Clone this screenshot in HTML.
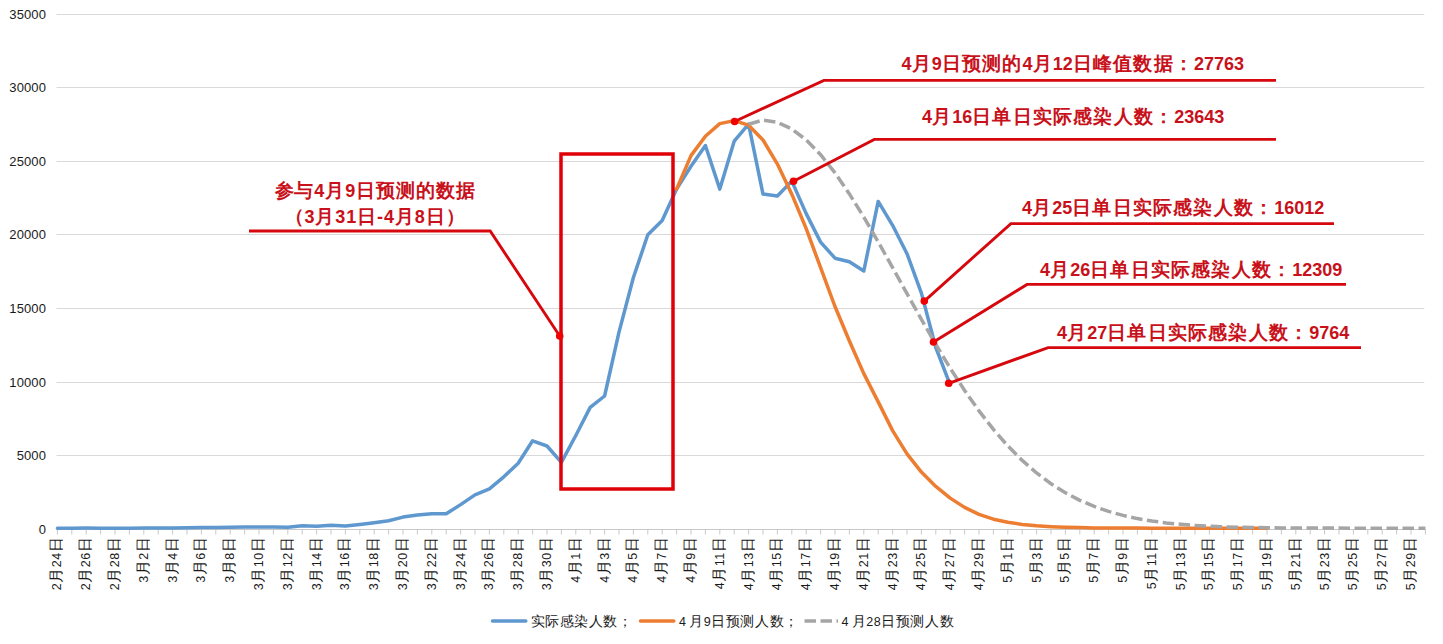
<!DOCTYPE html>
<html><head><meta charset="utf-8"><style>
html,body{margin:0;padding:0;background:#fff;}
svg{display:block;font-family:"Liberation Sans",sans-serif;}
.ax text{font-size:13px;fill:#1a1a1a;letter-spacing:0.1px;}
.xl text{font-size:12.5px;fill:#1a1a1a;letter-spacing:0.45px;}
.an{font-size:18px;font-weight:bold;fill:#c8111a;letter-spacing:0px;}
.an2{font-size:18px;font-weight:bold;fill:#c8111a;letter-spacing:0.9px;}
.lg{font-size:12.5px;fill:#1a1a1a;letter-spacing:0.6px;}
</style></head><body>
<svg width="1443" height="644" viewBox="0 0 1443 644">
<g stroke="#d9d9d9" stroke-width="1"><line x1="56.5" y1="455.5" x2="1424.3" y2="455.5"/><line x1="56.5" y1="382.5" x2="1424.3" y2="382.5"/><line x1="56.5" y1="308.5" x2="1424.3" y2="308.5"/><line x1="56.5" y1="234.5" x2="1424.3" y2="234.5"/><line x1="56.5" y1="161.5" x2="1424.3" y2="161.5"/><line x1="56.5" y1="87.5" x2="1424.3" y2="87.5"/><line x1="56.5" y1="14.5" x2="1424.3" y2="14.5"/></g>
<g stroke="#c8c8c8" stroke-width="1"><line x1="57.4" y1="529.5" x2="57.4" y2="534.5"/><line x1="71.8" y1="529.5" x2="71.8" y2="534.5"/><line x1="86.2" y1="529.5" x2="86.2" y2="534.5"/><line x1="100.6" y1="529.5" x2="100.6" y2="534.5"/><line x1="115.0" y1="529.5" x2="115.0" y2="534.5"/><line x1="129.4" y1="529.5" x2="129.4" y2="534.5"/><line x1="143.8" y1="529.5" x2="143.8" y2="534.5"/><line x1="158.2" y1="529.5" x2="158.2" y2="534.5"/><line x1="172.6" y1="529.5" x2="172.6" y2="534.5"/><line x1="187.0" y1="529.5" x2="187.0" y2="534.5"/><line x1="201.4" y1="529.5" x2="201.4" y2="534.5"/><line x1="215.8" y1="529.5" x2="215.8" y2="534.5"/><line x1="230.2" y1="529.5" x2="230.2" y2="534.5"/><line x1="244.6" y1="529.5" x2="244.6" y2="534.5"/><line x1="259.0" y1="529.5" x2="259.0" y2="534.5"/><line x1="273.4" y1="529.5" x2="273.4" y2="534.5"/><line x1="287.8" y1="529.5" x2="287.8" y2="534.5"/><line x1="302.2" y1="529.5" x2="302.2" y2="534.5"/><line x1="316.6" y1="529.5" x2="316.6" y2="534.5"/><line x1="331.0" y1="529.5" x2="331.0" y2="534.5"/><line x1="345.4" y1="529.5" x2="345.4" y2="534.5"/><line x1="359.8" y1="529.5" x2="359.8" y2="534.5"/><line x1="374.2" y1="529.5" x2="374.2" y2="534.5"/><line x1="388.6" y1="529.5" x2="388.6" y2="534.5"/><line x1="403.0" y1="529.5" x2="403.0" y2="534.5"/><line x1="417.4" y1="529.5" x2="417.4" y2="534.5"/><line x1="431.8" y1="529.5" x2="431.8" y2="534.5"/><line x1="446.2" y1="529.5" x2="446.2" y2="534.5"/><line x1="460.6" y1="529.5" x2="460.6" y2="534.5"/><line x1="475.0" y1="529.5" x2="475.0" y2="534.5"/><line x1="489.4" y1="529.5" x2="489.4" y2="534.5"/><line x1="503.8" y1="529.5" x2="503.8" y2="534.5"/><line x1="518.2" y1="529.5" x2="518.2" y2="534.5"/><line x1="532.6" y1="529.5" x2="532.6" y2="534.5"/><line x1="547.0" y1="529.5" x2="547.0" y2="534.5"/><line x1="561.4" y1="529.5" x2="561.4" y2="534.5"/><line x1="575.8" y1="529.5" x2="575.8" y2="534.5"/><line x1="590.2" y1="529.5" x2="590.2" y2="534.5"/><line x1="604.6" y1="529.5" x2="604.6" y2="534.5"/><line x1="619.0" y1="529.5" x2="619.0" y2="534.5"/><line x1="633.4" y1="529.5" x2="633.4" y2="534.5"/><line x1="647.8" y1="529.5" x2="647.8" y2="534.5"/><line x1="662.2" y1="529.5" x2="662.2" y2="534.5"/><line x1="676.6" y1="529.5" x2="676.6" y2="534.5"/><line x1="691.0" y1="529.5" x2="691.0" y2="534.5"/><line x1="705.4" y1="529.5" x2="705.4" y2="534.5"/><line x1="719.8" y1="529.5" x2="719.8" y2="534.5"/><line x1="734.2" y1="529.5" x2="734.2" y2="534.5"/><line x1="748.6" y1="529.5" x2="748.6" y2="534.5"/><line x1="763.0" y1="529.5" x2="763.0" y2="534.5"/><line x1="777.4" y1="529.5" x2="777.4" y2="534.5"/><line x1="791.8" y1="529.5" x2="791.8" y2="534.5"/><line x1="806.2" y1="529.5" x2="806.2" y2="534.5"/><line x1="820.6" y1="529.5" x2="820.6" y2="534.5"/><line x1="835.0" y1="529.5" x2="835.0" y2="534.5"/><line x1="849.4" y1="529.5" x2="849.4" y2="534.5"/><line x1="863.8" y1="529.5" x2="863.8" y2="534.5"/><line x1="878.2" y1="529.5" x2="878.2" y2="534.5"/><line x1="892.6" y1="529.5" x2="892.6" y2="534.5"/><line x1="907.0" y1="529.5" x2="907.0" y2="534.5"/><line x1="921.4" y1="529.5" x2="921.4" y2="534.5"/><line x1="935.8" y1="529.5" x2="935.8" y2="534.5"/><line x1="950.2" y1="529.5" x2="950.2" y2="534.5"/><line x1="964.6" y1="529.5" x2="964.6" y2="534.5"/><line x1="979.0" y1="529.5" x2="979.0" y2="534.5"/><line x1="993.4" y1="529.5" x2="993.4" y2="534.5"/><line x1="1007.8" y1="529.5" x2="1007.8" y2="534.5"/><line x1="1022.2" y1="529.5" x2="1022.2" y2="534.5"/><line x1="1036.6" y1="529.5" x2="1036.6" y2="534.5"/><line x1="1051.0" y1="529.5" x2="1051.0" y2="534.5"/><line x1="1065.4" y1="529.5" x2="1065.4" y2="534.5"/><line x1="1079.8" y1="529.5" x2="1079.8" y2="534.5"/><line x1="1094.2" y1="529.5" x2="1094.2" y2="534.5"/><line x1="1108.6" y1="529.5" x2="1108.6" y2="534.5"/><line x1="1123.0" y1="529.5" x2="1123.0" y2="534.5"/><line x1="1137.4" y1="529.5" x2="1137.4" y2="534.5"/><line x1="1151.8" y1="529.5" x2="1151.8" y2="534.5"/><line x1="1166.2" y1="529.5" x2="1166.2" y2="534.5"/><line x1="1180.6" y1="529.5" x2="1180.6" y2="534.5"/><line x1="1195.0" y1="529.5" x2="1195.0" y2="534.5"/><line x1="1209.4" y1="529.5" x2="1209.4" y2="534.5"/><line x1="1223.8" y1="529.5" x2="1223.8" y2="534.5"/><line x1="1238.2" y1="529.5" x2="1238.2" y2="534.5"/><line x1="1252.6" y1="529.5" x2="1252.6" y2="534.5"/><line x1="1267.0" y1="529.5" x2="1267.0" y2="534.5"/><line x1="1281.4" y1="529.5" x2="1281.4" y2="534.5"/><line x1="1295.8" y1="529.5" x2="1295.8" y2="534.5"/><line x1="1310.2" y1="529.5" x2="1310.2" y2="534.5"/><line x1="1324.6" y1="529.5" x2="1324.6" y2="534.5"/><line x1="1339.0" y1="529.5" x2="1339.0" y2="534.5"/><line x1="1353.4" y1="529.5" x2="1353.4" y2="534.5"/><line x1="1367.8" y1="529.5" x2="1367.8" y2="534.5"/><line x1="1382.2" y1="529.5" x2="1382.2" y2="534.5"/><line x1="1396.6" y1="529.5" x2="1396.6" y2="534.5"/><line x1="1411.0" y1="529.5" x2="1411.0" y2="534.5"/><line x1="1425.4" y1="529.5" x2="1425.4" y2="534.5"/><line x1="56.5" y1="529.5" x2="1425.5" y2="529.5"/></g>
<g class="ax"><text x="46.0" y="534" text-anchor="end">0</text><text x="46.0" y="460" text-anchor="end">5000</text><text x="46.0" y="387" text-anchor="end">10000</text><text x="46.0" y="313" text-anchor="end">15000</text><text x="46.0" y="239" text-anchor="end">20000</text><text x="46.0" y="166" text-anchor="end">25000</text><text x="46.0" y="92" text-anchor="end">30000</text><text x="46.0" y="19" text-anchor="end">35000</text></g>
<g class="xl"><text transform="translate(61.4,537) rotate(-90)" text-anchor="end">2<tspan style="font-size:15px">月</tspan>24<tspan style="font-size:15px">日</tspan></text><text transform="translate(90.2,537) rotate(-90)" text-anchor="end">2<tspan style="font-size:15px">月</tspan>26<tspan style="font-size:15px">日</tspan></text><text transform="translate(119.0,537) rotate(-90)" text-anchor="end">2<tspan style="font-size:15px">月</tspan>28<tspan style="font-size:15px">日</tspan></text><text transform="translate(147.8,537) rotate(-90)" text-anchor="end">3<tspan style="font-size:15px">月</tspan>2<tspan style="font-size:15px">日</tspan></text><text transform="translate(176.6,537) rotate(-90)" text-anchor="end">3<tspan style="font-size:15px">月</tspan>4<tspan style="font-size:15px">日</tspan></text><text transform="translate(205.4,537) rotate(-90)" text-anchor="end">3<tspan style="font-size:15px">月</tspan>6<tspan style="font-size:15px">日</tspan></text><text transform="translate(234.2,537) rotate(-90)" text-anchor="end">3<tspan style="font-size:15px">月</tspan>8<tspan style="font-size:15px">日</tspan></text><text transform="translate(263.0,537) rotate(-90)" text-anchor="end">3<tspan style="font-size:15px">月</tspan>10<tspan style="font-size:15px">日</tspan></text><text transform="translate(291.8,537) rotate(-90)" text-anchor="end">3<tspan style="font-size:15px">月</tspan>12<tspan style="font-size:15px">日</tspan></text><text transform="translate(320.6,537) rotate(-90)" text-anchor="end">3<tspan style="font-size:15px">月</tspan>14<tspan style="font-size:15px">日</tspan></text><text transform="translate(349.4,537) rotate(-90)" text-anchor="end">3<tspan style="font-size:15px">月</tspan>16<tspan style="font-size:15px">日</tspan></text><text transform="translate(378.2,537) rotate(-90)" text-anchor="end">3<tspan style="font-size:15px">月</tspan>18<tspan style="font-size:15px">日</tspan></text><text transform="translate(407.0,537) rotate(-90)" text-anchor="end">3<tspan style="font-size:15px">月</tspan>20<tspan style="font-size:15px">日</tspan></text><text transform="translate(435.8,537) rotate(-90)" text-anchor="end">3<tspan style="font-size:15px">月</tspan>22<tspan style="font-size:15px">日</tspan></text><text transform="translate(464.6,537) rotate(-90)" text-anchor="end">3<tspan style="font-size:15px">月</tspan>24<tspan style="font-size:15px">日</tspan></text><text transform="translate(493.4,537) rotate(-90)" text-anchor="end">3<tspan style="font-size:15px">月</tspan>26<tspan style="font-size:15px">日</tspan></text><text transform="translate(522.2,537) rotate(-90)" text-anchor="end">3<tspan style="font-size:15px">月</tspan>28<tspan style="font-size:15px">日</tspan></text><text transform="translate(551.0,537) rotate(-90)" text-anchor="end">3<tspan style="font-size:15px">月</tspan>30<tspan style="font-size:15px">日</tspan></text><text transform="translate(579.8,537) rotate(-90)" text-anchor="end">4<tspan style="font-size:15px">月</tspan>1<tspan style="font-size:15px">日</tspan></text><text transform="translate(608.6,537) rotate(-90)" text-anchor="end">4<tspan style="font-size:15px">月</tspan>3<tspan style="font-size:15px">日</tspan></text><text transform="translate(637.4,537) rotate(-90)" text-anchor="end">4<tspan style="font-size:15px">月</tspan>5<tspan style="font-size:15px">日</tspan></text><text transform="translate(666.2,537) rotate(-90)" text-anchor="end">4<tspan style="font-size:15px">月</tspan>7<tspan style="font-size:15px">日</tspan></text><text transform="translate(695.0,537) rotate(-90)" text-anchor="end">4<tspan style="font-size:15px">月</tspan>9<tspan style="font-size:15px">日</tspan></text><text transform="translate(723.8,537) rotate(-90)" text-anchor="end">4<tspan style="font-size:15px">月</tspan>11<tspan style="font-size:15px">日</tspan></text><text transform="translate(752.6,537) rotate(-90)" text-anchor="end">4<tspan style="font-size:15px">月</tspan>13<tspan style="font-size:15px">日</tspan></text><text transform="translate(781.4,537) rotate(-90)" text-anchor="end">4<tspan style="font-size:15px">月</tspan>15<tspan style="font-size:15px">日</tspan></text><text transform="translate(810.2,537) rotate(-90)" text-anchor="end">4<tspan style="font-size:15px">月</tspan>17<tspan style="font-size:15px">日</tspan></text><text transform="translate(839.0,537) rotate(-90)" text-anchor="end">4<tspan style="font-size:15px">月</tspan>19<tspan style="font-size:15px">日</tspan></text><text transform="translate(867.8,537) rotate(-90)" text-anchor="end">4<tspan style="font-size:15px">月</tspan>21<tspan style="font-size:15px">日</tspan></text><text transform="translate(896.6,537) rotate(-90)" text-anchor="end">4<tspan style="font-size:15px">月</tspan>23<tspan style="font-size:15px">日</tspan></text><text transform="translate(925.4,537) rotate(-90)" text-anchor="end">4<tspan style="font-size:15px">月</tspan>25<tspan style="font-size:15px">日</tspan></text><text transform="translate(954.2,537) rotate(-90)" text-anchor="end">4<tspan style="font-size:15px">月</tspan>27<tspan style="font-size:15px">日</tspan></text><text transform="translate(983.0,537) rotate(-90)" text-anchor="end">4<tspan style="font-size:15px">月</tspan>29<tspan style="font-size:15px">日</tspan></text><text transform="translate(1011.8,537) rotate(-90)" text-anchor="end">5<tspan style="font-size:15px">月</tspan>1<tspan style="font-size:15px">日</tspan></text><text transform="translate(1040.6,537) rotate(-90)" text-anchor="end">5<tspan style="font-size:15px">月</tspan>3<tspan style="font-size:15px">日</tspan></text><text transform="translate(1069.4,537) rotate(-90)" text-anchor="end">5<tspan style="font-size:15px">月</tspan>5<tspan style="font-size:15px">日</tspan></text><text transform="translate(1098.2,537) rotate(-90)" text-anchor="end">5<tspan style="font-size:15px">月</tspan>7<tspan style="font-size:15px">日</tspan></text><text transform="translate(1127.0,537) rotate(-90)" text-anchor="end">5<tspan style="font-size:15px">月</tspan>9<tspan style="font-size:15px">日</tspan></text><text transform="translate(1155.8,537) rotate(-90)" text-anchor="end">5<tspan style="font-size:15px">月</tspan>11<tspan style="font-size:15px">日</tspan></text><text transform="translate(1184.6,537) rotate(-90)" text-anchor="end">5<tspan style="font-size:15px">月</tspan>13<tspan style="font-size:15px">日</tspan></text><text transform="translate(1213.4,537) rotate(-90)" text-anchor="end">5<tspan style="font-size:15px">月</tspan>15<tspan style="font-size:15px">日</tspan></text><text transform="translate(1242.2,537) rotate(-90)" text-anchor="end">5<tspan style="font-size:15px">月</tspan>17<tspan style="font-size:15px">日</tspan></text><text transform="translate(1271.0,537) rotate(-90)" text-anchor="end">5<tspan style="font-size:15px">月</tspan>19<tspan style="font-size:15px">日</tspan></text><text transform="translate(1299.8,537) rotate(-90)" text-anchor="end">5<tspan style="font-size:15px">月</tspan>21<tspan style="font-size:15px">日</tspan></text><text transform="translate(1328.6,537) rotate(-90)" text-anchor="end">5<tspan style="font-size:15px">月</tspan>23<tspan style="font-size:15px">日</tspan></text><text transform="translate(1357.4,537) rotate(-90)" text-anchor="end">5<tspan style="font-size:15px">月</tspan>25<tspan style="font-size:15px">日</tspan></text><text transform="translate(1386.2,537) rotate(-90)" text-anchor="end">5<tspan style="font-size:15px">月</tspan>27<tspan style="font-size:15px">日</tspan></text><text transform="translate(1415.0,537) rotate(-90)" text-anchor="end">5<tspan style="font-size:15px">月</tspan>29<tspan style="font-size:15px">日</tspan></text></g>
<path d="M57.4,528.2 L71.8,528.2 L86.2,528.1 L100.6,528.2 L115.0,528.2 L129.4,528.2 L143.8,528.1 L158.2,528.0 L172.6,527.9 L187.0,527.8 L201.4,527.5 L215.8,527.4 L230.2,527.2 L244.6,527.0 L259.0,527.1 L273.4,527.0 L287.8,527.2 L302.2,525.7 L316.6,526.2 L331.0,525.2 L345.4,525.9 L359.8,524.4 L374.2,522.7 L388.6,520.7 L403.0,517.1 L417.4,515.0 L431.8,513.8 L446.2,513.8 L460.6,504.6 L475.0,494.9 L489.4,488.9 L503.8,476.8 L518.2,463.3 L532.6,440.8 L547.0,446.0 L561.4,462.4 L575.8,435.5 L590.2,407.4 L604.6,396.0 L619.0,332.1 L633.4,277.5 L647.8,234.8 L662.2,220.6 L676.6,189.1 L691.0,166.3 L705.4,145.5 L719.8,189.1 L734.2,141.2 L748.6,124.2 L763.0,194.1 L777.4,196.0 L791.8,181.1 L806.2,213.6 L820.6,242.1 L835.0,258.2 L849.4,261.7 L863.8,271.0 L878.2,201.4 L892.6,225.3 L907.0,253.7 L921.4,293.1 L935.8,347.5 L950.2,384.9" fill="none" stroke="#5e98cf" stroke-width="3.5" stroke-linecap="round" stroke-linejoin="round"/>
<path d="M676.6,189.1 L691.0,155.6 L705.4,136.2 L719.8,123.6 L734.2,120.6 L748.6,125.2 L763.0,140.0 L777.4,164.1 L791.8,194.2 L806.2,228.7 L820.6,267.6 L835.0,306.5 L849.4,341.0 L863.8,373.6 L878.2,401.9 L892.6,430.6 L907.0,453.9 L921.4,472.1 L935.8,486.4 L950.2,498.1 L964.6,507.4 L979.0,514.4 L993.4,519.2 L1007.8,522.3 L1022.2,524.4 L1036.6,525.8 L1051.0,526.7 L1065.4,527.3 L1079.8,527.6 L1094.2,527.9 L1108.6,528.0 L1123.0,528.1 L1137.4,528.1 L1151.8,528.2 L1166.2,528.2 L1180.6,528.2 L1195.0,528.2 L1209.4,528.2 L1223.8,528.2 L1238.2,528.2 L1252.6,528.2 L1267.0,528.2" fill="none" stroke="#ed7d31" stroke-width="3.5" stroke-linecap="round" stroke-linejoin="round"/>
<path d="M748.6,124.2 L763.0,120.1 L777.4,122.3 L791.8,129.0 L806.2,139.9 L820.6,154.7 L835.0,172.9 L849.4,193.9 L863.8,217.1 L878.2,241.9 L892.6,267.6 L907.0,293.7 L921.4,319.4 L935.8,344.4 L950.2,368.2 L964.6,390.4 L979.0,410.9 L993.4,429.4 L1007.8,445.9 L1022.2,460.4 L1036.6,473.0 L1051.0,483.7 L1065.4,492.7 L1079.8,500.3 L1094.2,506.4 L1108.6,511.4 L1123.0,515.4 L1137.4,518.6 L1151.8,521.0 L1166.2,522.9 L1180.6,524.3 L1195.0,525.4 L1209.4,526.2 L1223.8,526.8 L1238.2,527.2 L1252.6,527.5 L1267.0,527.7 L1281.4,527.9 L1295.8,528.0 L1310.2,528.1 L1324.6,528.1 L1339.0,528.1 L1353.4,528.2 L1367.8,528.2 L1382.2,528.2 L1396.6,528.2 L1411.0,528.2 L1425.4,528.2" fill="none" stroke="#a5a5a5" stroke-width="3.5" stroke-dasharray="11.5,4.5"/>
<rect x="561" y="154" width="112" height="335" fill="none" stroke="#e00008" stroke-width="3.5"/>
<g stroke="#d6080e" stroke-width="2.9" fill="none">
<polyline points="249,231 490.2,231 559.7,336"/>
<polyline points="734.6,121.5 823.9,80.4 1276,80.4"/>
<polyline points="793.5,181.3 874.3,139.4 1276,139.4"/>
<polyline points="924.3,301.1 1010.9,223.6 1334,223.6"/>
<polyline points="933.5,342 1027,284.4 1346,284.4"/>
<polyline points="948.7,383.3 1048.1,347.6 1361,347.6"/>
</g>
<g fill="#f00000">
<circle cx="559.7" cy="336" r="3.8"/><circle cx="734.6" cy="121.5" r="3.8"/><circle cx="793.5" cy="181.3" r="3.8"/>
<circle cx="924.3" cy="301.1" r="3.8"/><circle cx="933.5" cy="342" r="3.8"/><circle cx="948.7" cy="383.3" r="3.8"/>
</g>
<g class="an2">
<text x="375" y="197" text-anchor="middle"><tspan style="font-size:19px">参与</tspan>4<tspan style="font-size:19px">月</tspan>9<tspan style="font-size:19px">日预测的数据</tspan></text>
<text x="375" y="223" text-anchor="middle"><tspan style="font-size:19px">（</tspan>3<tspan style="font-size:19px">月</tspan>31<tspan style="font-size:19px">日</tspan>-4<tspan style="font-size:19px">月</tspan>8<tspan style="font-size:19px">日）</tspan></text>
</g>
<g class="an"><text x="901.5" y="70">4<tspan style="font-size:19px;letter-spacing:1.2px">月</tspan>9<tspan style="font-size:19px;letter-spacing:1.2px">日预测的</tspan>4<tspan style="font-size:19px;letter-spacing:1.2px">月</tspan>12<tspan style="font-size:19px;letter-spacing:1.2px">日峰值数据：</tspan>27763</text><text x="922" y="122.5">4<tspan style="font-size:19px;letter-spacing:1.2px">月</tspan>16<tspan style="font-size:19px;letter-spacing:1.2px">日单日实际感染人数：</tspan>23643</text><text x="1022" y="213.6">4<tspan style="font-size:19px;letter-spacing:1.2px">月</tspan>25<tspan style="font-size:19px;letter-spacing:1.2px">日单日实际感染人数：</tspan>16012</text><text x="1040" y="275.7">4<tspan style="font-size:19px;letter-spacing:1.2px">月</tspan>26<tspan style="font-size:19px;letter-spacing:1.2px">日单日实际感染人数：</tspan>12309</text><text x="1057" y="339">4<tspan style="font-size:19px;letter-spacing:1.2px">月</tspan>27<tspan style="font-size:19px;letter-spacing:1.2px">日单日实际感染人数：</tspan>9764</text></g>
<g>
<line x1="492.5" y1="621" x2="525.8" y2="621" stroke="#5e98cf" stroke-width="3.5" stroke-linecap="round"/>
<line x1="640.5" y1="621" x2="673.8" y2="621" stroke="#ed7d31" stroke-width="3.5" stroke-linecap="round"/>
<line x1="804.5" y1="621" x2="838" y2="621" stroke="#a5a5a5" stroke-width="3.5" stroke-dasharray="11.5,4.5"/>
</g>
<g class="lg">
<text x="530.5" y="626"><tspan style="font-size:13.5px">实际感染人数；</tspan></text>
<text x="679" y="626">4<tspan dx="2.5"><tspan style="font-size:13.5px">月</tspan>9<tspan style="font-size:13.5px">日预测人数；</tspan></tspan></text>
<text x="841.5" y="626">4<tspan dx="2.5"><tspan style="font-size:13.5px">月</tspan>28<tspan style="font-size:13.5px">日预测人数</tspan></tspan></text>
</g>
</svg>
</body></html>
